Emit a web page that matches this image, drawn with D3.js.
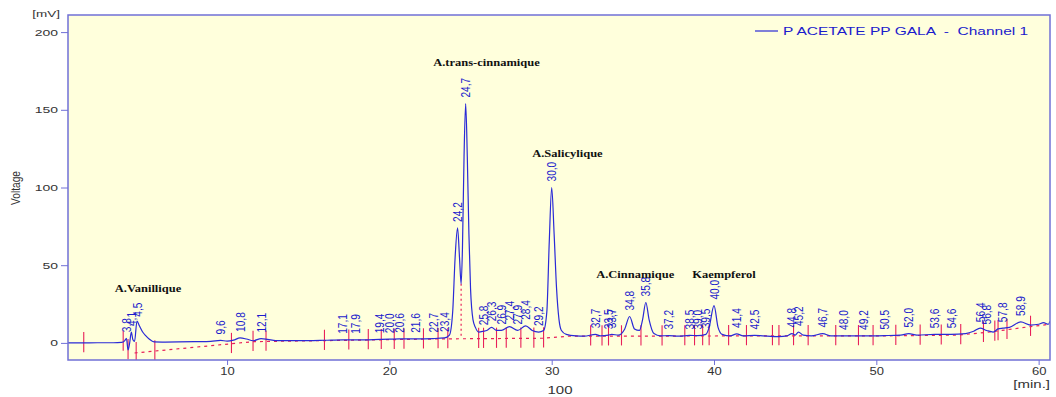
<!DOCTYPE html>
<html lang="en">
<head>
<meta charset="UTF-8">
<title>chromatogram</title>
<script src="https://cdn.jsdelivr.net/npm/d3@7"></script>
<style>
  body { margin: 0; background: #fff; }
  #chart { width: 1056px; height: 397px; }
  text { font-family: "Liberation Sans", Arial, sans-serif; }
  text.cmp { font-family: "Liberation Serif", "Times New Roman", serif; font-weight: bold; }
</style>
</head>
<body>
<div id="chart"></div>
<script>
// detector trace: [time min, mV]
const trace = [
  [0.2, 0], [1.0, 0], [2.0, 0.1], [3.0, 0.1], [3.5, 0.3], [3.7, 1.5], [3.8, 3], [3.9, -4.5],
  [4.0, 0], [4.1, 7], [4.2, 2], [4.3, 1], [4.45, 14], [4.6, 11], [4.8, 7], [5.0, 4.5],
  [5.2, 2.5], [5.5, 0.6], [6.0, 0.5], [7.0, 0.6], [8.0, 0.8], [9.0, 1], [9.6, 1.6],
  [10.0, 1.2], [10.4, 1.8], [10.8, 3.2], [11.2, 2.5], [11.6, 1.4], [12.1, 2.8], [12.5, 2.3],
  [13.0, 1.5], [14.0, 1.5], [15.0, 1.5], [16.0, 1.7], [17.1, 2], [17.9, 2], [18.5, 2],
  [19.4, 2.3], [20.0, 2.4], [20.6, 2.6], [21.6, 2.6], [22.7, 2.8], [23.4, 3.2], [23.7, 5],
  [23.9, 20], [24.05, 55], [24.2, 74], [24.32, 55], [24.42, 38], [24.5, 60], [24.6, 120],
  [24.7, 154], [24.8, 120], [24.9, 70], [25.0, 35], [25.15, 15], [25.3, 10], [25.5, 7],
  [25.8, 7.5], [26.0, 8], [26.3, 10], [26.6, 8], [26.9, 8], [27.4, 10.5], [27.9, 8],
  [28.4, 11], [28.8, 8], [29.2, 7], [29.5, 8], [29.7, 20], [29.85, 65], [30.0, 100],
  [30.15, 70], [30.3, 35], [30.45, 15], [30.6, 8], [30.9, 5.5], [31.5, 4.5], [32.0, 4.3],
  [32.7, 5.5], [33.0, 4.5], [33.5, 5], [33.7, 5.5], [34.1, 5], [34.5, 9], [34.8, 17],
  [35.1, 9], [35.4, 8], [35.6, 15], [35.8, 26], [36.0, 15], [36.3, 6], [36.7, 4.5],
  [37.2, 4.7], [37.8, 4.3], [38.5, 4.8], [39.0, 4.7], [39.5, 5.5], [39.7, 10], [40.0, 24],
  [40.25, 10], [40.5, 5.5], [41.0, 4.5], [41.4, 5.8], [41.8, 4.5], [42.5, 4.8], [43.0, 4.5],
  [44.0, 4], [44.5, 4.5], [44.8, 6], [45.0, 5], [45.2, 7], [45.5, 5], [46.0, 4.5],
  [46.7, 6], [47.2, 4.5], [48.0, 4.5], [49.2, 4.5], [50.5, 4.7], [51.5, 5], [52.0, 6],
  [52.5, 5], [53.6, 5.5], [54.6, 5.5], [55.5, 6], [56.0, 7.5], [56.4, 9.5], [56.8, 8],
  [57.2, 7], [57.5, 9], [57.8, 9.5], [58.2, 10], [58.9, 13.5], [59.5, 11.5], [60.0, 12],
  [60.3, 13], [60.6, 12], [60.7, 14]
];

// integration baseline (red dashes)
const baseline = [
  [4.3, -6.5], [11.6, 0.8], [23.4, 2.6], [29.5, 3], [31.0, 4.3], [42.5, 4.5],
  [50.0, 4.5], [55.0, 5], [57.0, 7], [59.5, 10.5], [60.7, 12]
];

// labelled retention times
const peakTimes = [
  3.8, 4.1, 4.5, 9.6, 10.8, 12.1, 17.1, 17.9, 19.4, 20.0, 20.6, 21.6, 22.7, 23.4,
  24.2, 24.7, 25.8, 26.3, 26.9, 27.4, 27.9, 28.4, 29.2, 30.0, 32.7, 33.5, 33.7, 34.8,
  35.8, 37.2, 38.5, 39.0, 39.5, 40.0, 41.4, 42.5, 44.8, 45.2, 46.7, 48.0, 49.2, 50.5,
  52.0, 53.6, 54.6, 56.4, 56.8, 57.8, 58.9
];

// peak start / end event marks
const eventTimes = [
  1.17, 3.6, 3.9, 4.4, 5.55, 10.27, 11.6, 12.4, 16.0, 17.5, 18.7, 19.5, 20.3, 20.9,
  22.1, 23.0, 23.6, 25.5, 25.8, 26.6, 27.2, 28.1, 28.9, 29.5, 32.4, 33.1, 33.5, 34.3,
  35.5, 36.8, 38.2, 38.8, 39.3, 39.7, 40.9, 42.0, 43.6, 44.0, 44.9, 45.8, 47.5, 48.9,
  49.8, 51.2, 52.7, 54.0, 55.2, 56.6, 57.3, 57.5, 58.05, 59.5
];
const dropLines = [24.42];

const compounds = [
  { name: "A.Vanillique", t: 3.08, v: 32.8 },
  { name: "A.trans-cinnamique", t: 22.7, v: 178.5 },
  { name: "A.Salicylique", t: 28.8, v: 119.5 },
  { name: "A.Cinnamique", t: 32.74, v: 41.8 },
  { name: "Kaempferol", t: 38.66, v: 41.8 }
];

const yTicks = [0, 50, 100, 150, 200];
const xTicks = [10, 20, 30, 40, 50, 60];
const legendLabel = "P ACETATE PP GALA  -  Channel 1";

const W = 1056, H = 397;
const plot = { left: 68, top: 15, right: 1050, bottom: 360 };
const frameCol = "#7070d6", traceCol = "#2a2ad6", labelCol = "#1c1ccc", markCol = "#e8205a";

const svg = d3.select("#chart").append("svg").attr("width", W).attr("height", H);

const x = d3.scaleLinear().domain([0.2, 60.7]).range([plot.left, plot.right]);
const y = d3.scaleLinear().domain([-11, 211]).range([plot.bottom, plot.top]);

// value lookup along a [t, v] series
function valueAt(series, t) {
  const i = d3.bisector(d => d[0]).left(series, t);
  if (i <= 0) return series[0][1];
  if (i >= series.length) return series[series.length - 1][1];
  const a = series[i - 1], b = series[i];
  return a[1] + (b[1] - a[1]) * (t - a[0]) / (b[0] - a[0]);
}
function baseAt(t) {
  return t < baseline[0][0] ? valueAt(trace, t) : valueAt(baseline, t);
}

svg.append("rect")
  .attr("x", plot.left).attr("y", plot.top)
  .attr("width", plot.right - plot.left).attr("height", plot.bottom - plot.top)
  .attr("fill", "#ffffdc");

svg.append("defs").append("clipPath").attr("id", "clip")
  .append("rect")
  .attr("x", plot.left).attr("y", plot.top)
  .attr("width", plot.right - plot.left).attr("height", plot.bottom - plot.top);

const g = svg.append("g").attr("clip-path", "url(#clip)");

// baseline
g.append("path")
  .datum(baseline)
  .attr("fill", "none")
  .attr("stroke", markCol)
  .attr("stroke-width", 1.2)
  .attr("stroke-dasharray", "3,4")
  .attr("d", d3.line().x(d => x(d[0])).y(d => y(d[1])));

g.selectAll(".drop").data(dropLines).enter().append("line")
  .attr("x1", d => x(d)).attr("x2", d => x(d))
  .attr("y1", d => y(valueAt(trace, d)))
  .attr("y2", d => y(baseAt(d)))
  .attr("stroke", markCol).attr("stroke-width", 1.2).attr("stroke-dasharray", "2,3");

// event marks
g.selectAll(".ev").data(eventTimes).enter().append("line")
  .attr("x1", d => x(d)).attr("x2", d => x(d))
  .attr("y1", d => y(baseAt(d) + 7))
  .attr("y2", d => y(baseAt(d) - 6))
  .attr("stroke", markCol).attr("stroke-width", 1.1);

// trace
g.append("path")
  .datum(trace)
  .attr("fill", "none")
  .attr("stroke", traceCol)
  .attr("stroke-width", 1.2)
  .attr("d", d3.line().x(d => x(d[0])).y(d => y(d[1])).curve(d3.curveMonotoneX));

// retention time labels (squashed text like the source)
svg.append("g").selectAll("g").data(peakTimes).enter().append("g")
  .attr("transform", d => `translate(${x(d)},${y(valueAt(trace, d)) - 6}) scale(1,0.78) rotate(-90)`)
  .append("text")
  .attr("dy", "0.35em")
  .attr("font-size", 13)
  .attr("fill", labelCol)
  .text(d => d.toFixed(1).replace(".", ","));

// compound names
svg.append("g").selectAll("g").data(compounds).enter().append("g")
  .attr("transform", d => `translate(${x(d.t)},${y(d.v)}) scale(1,0.77)`)
  .append("text")
  .attr("class", "cmp")
  .attr("font-size", 12.5)
  .attr("fill", "#111")
  .text(d => d.name);

// frame
svg.append("rect")
  .attr("x", plot.left).attr("y", plot.top)
  .attr("width", plot.right - plot.left).attr("height", plot.bottom - plot.top)
  .attr("fill", "none").attr("stroke", frameCol).attr("stroke-width", 1.5);

// axes
const yAxis = svg.append("g")
  .attr("transform", `translate(${plot.left},0)`)
  .call(d3.axisLeft(y).tickValues(yTicks).tickSize(7).tickPadding(3));
yAxis.select(".domain").remove();
yAxis.selectAll("line").attr("stroke", frameCol);
yAxis.selectAll("text")
  .attr("font-size", 14).attr("fill", "#333")
  .attr("transform", "scale(1,0.68)");

const xAxis = svg.append("g")
  .attr("transform", `translate(0,${plot.bottom})`)
  .call(d3.axisBottom(x).tickValues(xTicks).tickSize(5).tickPadding(3));
xAxis.select(".domain").remove();
xAxis.selectAll("line").attr("stroke", frameCol);
xAxis.selectAll("text")
  .attr("font-size", 13).attr("fill", "#333")
  .attr("transform", "scale(1,0.85)");

// axis captions
function squashed(tx, ty, sy, rot) {
  return svg.append("g")
    .attr("transform", `translate(${tx},${ty}) scale(1,${sy})` + (rot ? ` rotate(${rot})` : ""))
    .append("text");
}
squashed(60, 17, 0.72).attr("text-anchor", "end").attr("font-size", 13.5).attr("fill", "#333").text("[mV]");
squashed(20, 188, 0.78, -90).attr("text-anchor", "middle").attr("font-size", 13).attr("fill", "#333").text("Voltage");
squashed(1050, 388, 0.68).attr("text-anchor", "end").attr("font-size", 15).attr("fill", "#333").text("[min.]");
squashed(560, 394, 0.68).attr("text-anchor", "middle").attr("font-size", 15).attr("fill", "#333").text("100");

// legend
svg.append("line")
  .attr("x1", 755).attr("x2", 778).attr("y1", 31).attr("y2", 31)
  .attr("stroke", traceCol).attr("stroke-width", 1.2);
squashed(783, 31, 0.66).attr("dy", "0.35em").attr("font-size", 15.5)
  .attr("fill", labelCol).style("white-space", "pre").text(legendLabel);
</script>
</body>
</html>
